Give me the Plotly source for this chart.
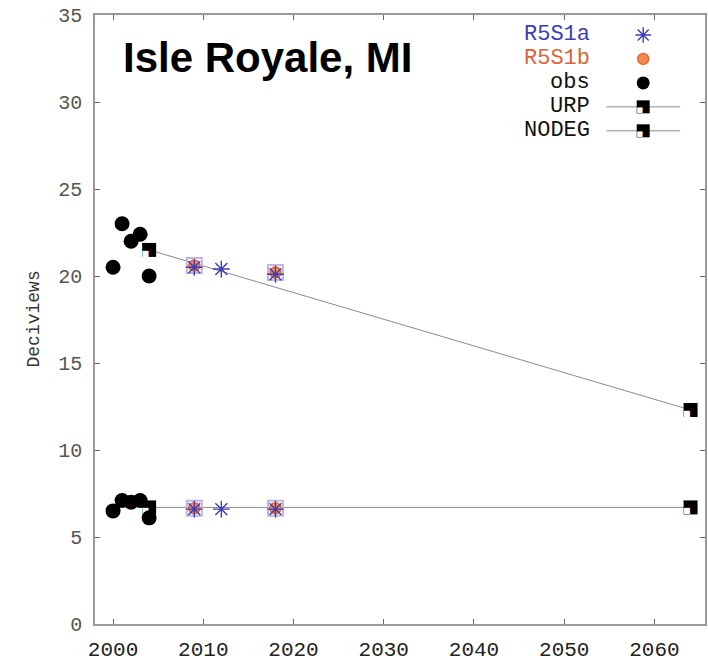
import plotly.graph_objects as go

# ---------------- data ----------------
obs_years = [2000, 2001, 2002, 2003, 2004]
obs_worst = [20.5, 23.0, 22.0, 22.4, 20.0]
obs_best = [6.5, 7.1, 7.0, 7.1, 6.1]

urp_years = [2004, 2064]
urp_values = [21.5, 12.3]
nodeg_years = [2004, 2064]
nodeg_values = [6.7, 6.7]

r5s1a_years = [2009, 2012, 2018, 2009, 2012, 2018]
r5s1a_values = [20.5, 20.4, 20.1, 6.6, 6.6, 6.6]
r5s1b_years = [2009, 2018, 2009, 2018]
r5s1b_values = [20.6, 20.2, 6.65, 6.65]

legend_names = ["R5S1a", "R5S1b", "obs", "URP", "NODEG"]
legend_colors = ["#3d3db8", "#d8663a", "#111111", "#111111", "#111111"]

y_ticks = [0, 5, 10, 15, 20, 25, 30, 35]
x_ticks = [2000, 2010, 2020, 2030, 2040, 2050, 2060]

title_text = "Isle Royale, MI"
y_title = "Deciviews"

# ---------------- styling ----------------
MONO = "Liberation Mono"
BLUE = "#3d3db8"
ORANGE = "#e8692e"
LAV = "#c4b4e0"
GRAY = "#8c8c8c"

fig = go.Figure()

# lines
for xs, ys in [(urp_years, urp_values), (nodeg_years, nodeg_values)]:
    fig.add_trace(go.Scatter(x=xs, y=ys, mode="lines",
                             line=dict(color=GRAY, width=1), showlegend=False, hoverinfo="skip"))
# squares
for xs, ys in [(urp_years, urp_values), (nodeg_years, nodeg_values)]:
    fig.add_trace(go.Scatter(x=xs, y=ys, mode="markers",
                             marker=dict(symbol="square", size=14, color="black"),
                             showlegend=False))
    fig.add_trace(go.Scatter(x=xs, y=ys, mode="text", text=["■"] * len(xs),
                             textposition="bottom left",
                             textfont=dict(family="DejaVu Sans", size=8, color="white"),
                             showlegend=False, hoverinfo="skip"))

# obs
fig.add_trace(go.Scatter(x=obs_years + obs_years, y=obs_worst + obs_best, mode="markers",
                         marker=dict(symbol="circle", size=15, color="black"), showlegend=False))

# R5S1b overlays
fig.add_trace(go.Scatter(x=r5s1b_years, y=r5s1b_values, mode="markers",
                         marker=dict(symbol="square-open", size=15, color=LAV, line=dict(width=2, color=LAV)),
                         showlegend=False))
fig.add_trace(go.Scatter(x=r5s1b_years, y=r5s1b_values, mode="markers",
                         marker=dict(symbol="circle", size=11, color="#f08a50",
                                     line=dict(width=1.5, color=ORANGE)),
                         showlegend=False))
# R5S1a
fig.add_trace(go.Scatter(x=r5s1a_years, y=r5s1a_values, mode="markers",
                         marker=dict(symbol="asterisk-open", size=14, color=BLUE,
                                     line=dict(width=1.4, color=BLUE)),
                         showlegend=False))

# ---------------- custom legend (pixel-like overlay axes) ----------------
LEG_TEXT_X = 594
LEG_SYM_X = 645
LEG_LINE = (608, 682)
LEG_Y0 = 35
LEG_STEP = 24
rows = {n: LEG_Y0 + i * LEG_STEP for i, n in enumerate(legend_names)}

leg_symbols = {
    "R5S1a": dict(symbol="asterisk-open", size=13, color=BLUE, line=dict(width=1.4, color=BLUE)),
    "R5S1b": dict(symbol="circle", size=11, color="#f08a50", line=dict(width=1.5, color=ORANGE)),
    "obs": dict(symbol="circle", size=13, color="black"),
    "URP": dict(symbol="square", size=13, color="black"),
    "NODEG": dict(symbol="square", size=13, color="black"),
}
for name in ["URP", "NODEG"]:
    fig.add_trace(go.Scatter(x=list(LEG_LINE), y=[rows[name]] * 2, mode="lines",
                             line=dict(color=GRAY, width=1), xaxis="x2", yaxis="y2",
                             showlegend=False, hoverinfo="skip"))
for name in legend_names:
    fig.add_trace(go.Scatter(x=[LEG_SYM_X], y=[rows[name]], mode="markers",
                             marker=leg_symbols[name], xaxis="x2", yaxis="y2",
                             showlegend=False, hoverinfo="skip"))
for name in ["URP", "NODEG"]:
    fig.add_trace(go.Scatter(x=[LEG_SYM_X], y=[rows[name]], mode="text", text=["■"],
                             textposition="bottom left",
                             textfont=dict(family="DejaVu Sans", size=7, color="white"),
                             xaxis="x2", yaxis="y2", showlegend=False, hoverinfo="skip"))

annotations = []
for name, col in zip(legend_names, legend_colors):
    annotations.append(dict(x=LEG_TEXT_X, y=rows[name], xref="x2", yref="y2", text=name,
                            showarrow=False, xanchor="right", yanchor="middle",
                            font=dict(family=MONO, size=22, color=col)))

annotations.append(dict(x=0.043, y=0.93, xref="paper", yref="paper", text="<b>%s</b>" % title_text,
                        showarrow=False, xanchor="left", yanchor="middle",
                        font=dict(family="Liberation Sans", size=42, color="black")))
annotations.append(dict(x=0, y=0.5, xref="paper", yref="paper", text=y_title, textangle=-90,
                        showarrow=False, xanchor="center", yanchor="middle", xshift=-62,
                        font=dict(family=MONO, size=18, color="#333333")))

fig.update_layout(
    width=708, height=663,
    margin=dict(l=95, r=1, t=15, b=38),
    paper_bgcolor="white", plot_bgcolor="white",
    showlegend=False,
    hovermode=False,
    annotations=annotations,
    xaxis=dict(range=[1998.0, 2065.6], tickvals=x_ticks, ticktext=[str(v) for v in x_ticks],
               ticks="inside", ticklen=5, tickcolor="#666", showgrid=False, zeroline=False,
               showline=True, linecolor="#999", linewidth=1.5, mirror="ticks",
               tickfont=dict(family=MONO, size=21, color="#222"), ticklabelstandoff=5),
    yaxis=dict(range=[0, 35], tickvals=y_ticks, ticks="inside", ticklen=5, tickcolor="#666",
               showgrid=False, zeroline=False, showline=True, linecolor="#999", linewidth=1.5,
               mirror="ticks", tickfont=dict(family=MONO, size=20, color="#555"),
               ticklabelstandoff=7),
    xaxis2=dict(range=[95, 707], overlaying="x", visible=False, anchor="y2"),
    yaxis2=dict(range=[625, 15], overlaying="y", visible=False, anchor="x2"),
)

fig.write_html("out.html", config={"displayModeBar": False},
               post_script="document.body.style.margin='0';document.body.style.overflow='hidden';")
